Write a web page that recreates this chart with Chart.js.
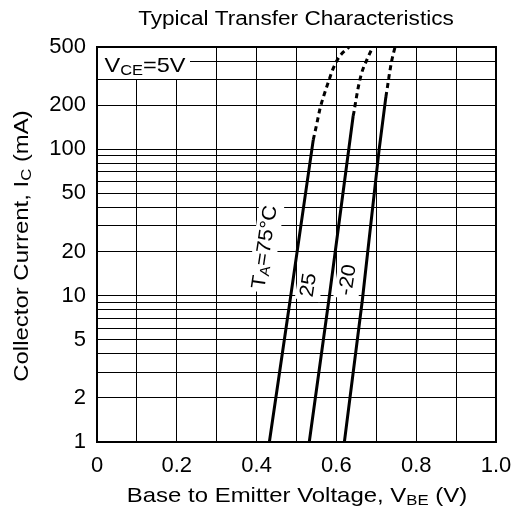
<!DOCTYPE html>
<html>
<head>
<meta charset="utf-8">
<script src="https://cdn.jsdelivr.net/npm/chart.js@4/dist/chart.umd.min.js"></script>
<style>
  html, body { margin: 0; padding: 0; background: #fff; }
  #wrap { width: 513px; height: 518px; }
</style>
</head>
<body>
<div id="wrap"><canvas id="myChart"></canvas></div>
<script>
// curve data: Vbe (V) vs Ic (mA)
const vbe75 = [0.432, 0.484, 0.542];
const ic75 = [1, 9.3, 116];
const vbe75Dash = [0.542, 0.551, 0.559, 0.569, 0.580, 0.592, 0.607, 0.632];
const ic75Dash = [116, 150, 190, 235, 289, 357, 428, 500];

const vbe25 = [0.532, 0.581, 0.642];
const ic25 = [1, 9.3, 169];
const vbe25Dash = [0.642, 0.644, 0.649, 0.655, 0.663, 0.676, 0.691];
const ic25Dash = [169, 180, 217, 267, 330, 407, 500];

const vbeM20 = [0.620, 0.665, 0.707, 0.724];
const icM20 = [1, 9.3, 99, 228];
const vbeM20Dash = [0.724, 0.728, 0.733, 0.739, 0.747];
const icM20Dash = [228, 267, 330, 407, 500];

const xGrid = [0, 0.1, 0.2, 0.3, 0.4, 0.5, 0.6, 0.7, 0.8, 0.9, 1.0];
const xLabels = ["0", "", "0.2", "", "0.4", "", "0.6", "", "0.8", "", "1.0"];
const yGrid = [1, 2, 3, 4, 5, 6, 7, 8, 9, 10, 20, 30, 40, 50, 60, 70, 80, 90, 100, 200, 300, 400, 500];
const yLabels = [1, 2, 5, 10, 20, 50, 100, 200, 500];

const FONT = "'Liberation Sans', Arial, sans-serif";

function pts(xs, ys) {
    return xs.map((x, i) => ({ x: x, y: ys[i] }));
}

function solid(xs, ys) {
    return { data: pts(xs, ys), showLine: true, borderColor: "#000", borderWidth: 3, pointRadius: 0, tension: 0 };
}
function dashed(xs, ys) {
    return { data: pts(xs, ys), showLine: true, borderColor: "#000", borderWidth: 3, pointRadius: 0,
        borderDash: [5, 4], cubicInterpolationMode: "monotone", borderCapStyle: "butt" };
}

// text made of parts, some of them subscript
function richWidth(ctx, parts, size) {
    let w = 0;
    parts.forEach(p => {
        ctx.font = (p.sub ? size * 0.7 : size) + "px " + FONT;
        w += ctx.measureText(p.t).width;
    });
    return w;
}
function drawRich(ctx, parts, x, y, size) {
    let cx = x;
    parts.forEach(p => {
        const s = p.sub ? size * 0.7 : size;
        ctx.font = s + "px " + FONT;
        ctx.fillText(p.t, cx, p.sub ? y + size * 0.22 : y);
        cx += ctx.measureText(p.t).width;
    });
}
// centred at (cx, cy), rotated, stretched along the text by sx
function drawRichCentered(ctx, parts, cx, cy, size, angle, sx, box) {
    ctx.save();
    ctx.translate(cx, cy);
    ctx.rotate(angle);
    ctx.scale(sx, 1);
    const w = richWidth(ctx, parts, size);
    if (box) {
        ctx.fillStyle = "#fff";
        ctx.fillRect(-w / 2 - 3, -size * 0.6, w + 6, size * 1.25);
    }
    ctx.fillStyle = "#000";
    ctx.textBaseline = "middle";
    ctx.textAlign = "left";
    drawRich(ctx, parts, -w / 2, 0, size);
    ctx.restore();
}

const annotations = {
    id: "annotations",
    afterDatasetsDraw(chart) {
        const ctx = chart.ctx;
        const xs = chart.scales.x, ys = chart.scales.y;
        const tilt = -81.4 * Math.PI / 180;
        const a = chart.chartArea;
        // VCE box in the top left corner
        ctx.save();
        ctx.fillStyle = "#fff";
        ctx.fillRect(a.left + 1, a.top + 1, 92, 31);
        ctx.restore();
        drawRichCentered(ctx, [{ t: "V" }, { t: "CE", sub: true }, { t: "=5V" }],
            a.left + 48, a.top + 19, 21, 0, 1.12, false);

        drawRichCentered(ctx, [{ t: "T" }, { t: "A", sub: true }, { t: "=75°C" }],
            xs.getPixelForValue(0.421), ys.getPixelForValue(21.5), 20, tilt, 1.08, true);
        drawRichCentered(ctx, [{ t: "25" }],
            xs.getPixelForValue(0.531), ys.getPixelForValue(11.8), 20, tilt, 1.08, true);
        drawRichCentered(ctx, [{ t: "-20" }],
            xs.getPixelForValue(0.629), ys.getPixelForValue(12.8), 20, tilt, 1.08, true);
    },
    afterDraw(chart) {
        const ctx = chart.ctx;
        const a = chart.chartArea;
        // chart border
        ctx.save();
        ctx.strokeStyle = "#000";
        ctx.lineWidth = 2;
        ctx.strokeRect(a.left, a.top, a.right - a.left, a.bottom - a.top);
        ctx.restore();
        // title and axis titles
        drawRichCentered(ctx, [{ t: "Typical Transfer Characteristics" }], 296, 19, 20, 0, 1.13, false);
        drawRichCentered(ctx, [{ t: "Base to Emitter Voltage, V" }, { t: "BE", sub: true }, { t: " (V)" }],
            297, 496, 21, 0, 1.14, false);
        drawRichCentered(ctx, [{ t: "Collector Current, I" }, { t: "C", sub: true }, { t: " (mA)" }],
            22, 246, 21, -Math.PI / 2, 1.14, false);
    }
};

const myChart = new Chart("myChart", {
    type: "scatter",
    data: {
        datasets: [
            solid(vbe75, ic75), dashed(vbe75Dash, ic75Dash),
            solid(vbe25, ic25), dashed(vbe25Dash, ic25Dash),
            solid(vbeM20, icM20), dashed(vbeM20Dash, icM20Dash)
        ]
    },
    options: {
        responsive: true,
        maintainAspectRatio: false,
        animation: false,
        layout: { padding: { top: 47, right: 17, left: 0, bottom: 0 } },
        plugins: {
            legend: { display: false },
            tooltip: { enabled: false }
        },
        scales: {
            x: {
                type: "linear",
                min: 0,
                max: 1,
                afterBuildTicks: s => { s.ticks = xGrid.map(v => ({ value: v })); },
                afterFit: s => { s.height = 76; s.paddingLeft = 0; s.paddingRight = 0; },
                ticks: {
                    autoSkip: false,
                    maxRotation: 0,
                    color: "#000",
                    font: { family: FONT, size: 22 },
                    padding: 11,
                    callback: (v, i) => xLabels[i]
                },
                grid: { color: "#000", lineWidth: 1, drawTicks: false },
                border: { display: false }
            },
            y: {
                type: "logarithmic",
                min: 1,
                max: 500,
                afterBuildTicks: s => { s.ticks = yGrid.map(v => ({ value: v })); },
                afterFit: s => { s.width = 97; s.paddingTop = 0; s.paddingBottom = 0; },
                ticks: {
                    autoSkip: false,
                    color: "#000",
                    font: { family: FONT, size: 22 },
                    padding: 11,
                    callback: v => (yLabels.includes(v) ? String(v) : "")
                },
                grid: { color: "#000", lineWidth: 1, drawTicks: false },
                border: { display: false }
            }
        }
    },
    plugins: [annotations]
});
</script>
</body>
</html>
